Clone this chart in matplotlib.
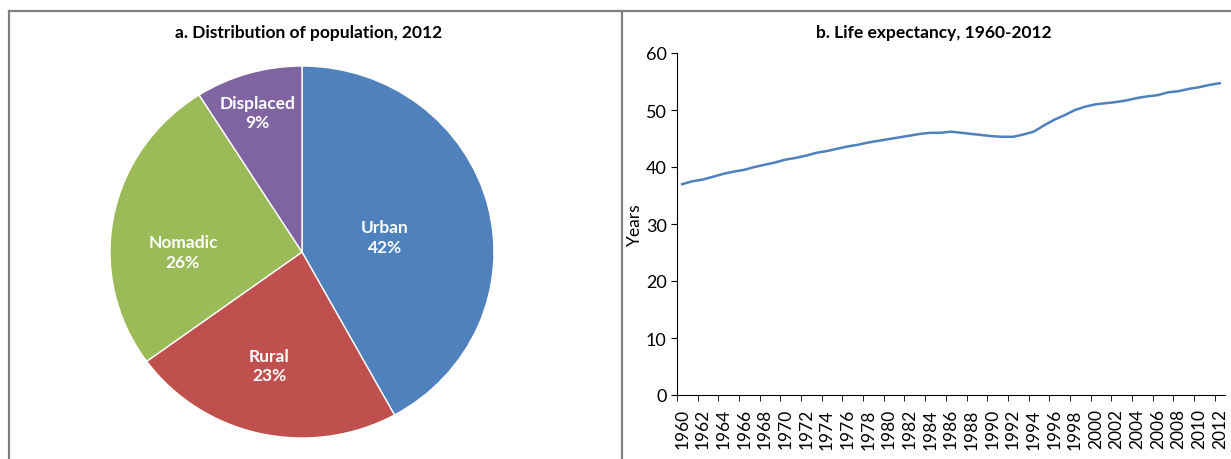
import numpy as np
import matplotlib.pyplot as plt
from matplotlib.lines import Line2D

plt.rcParams['font.family'] = ['Lato', 'DejaVu Sans']

# pie data
groups = ["Urban", "Rural", "Nomadic", "Displaced"]
shares = [42, 23, 26, 9]
pie_colors = ["#4F81BD", "#C0504D", "#9BBB59", "#8064A2"]
# label centres in pie coords (radius 1)
label_pos = [(0.43, 0.08), (-0.17, -0.61), (-0.62, 0.0), (-0.23, 0.75)]

# life expectancy data
years = list(range(1960, 2013))
life_exp = [37.0, 37.5, 37.8, 38.3, 38.8, 39.2, 39.5, 40.0, 40.4, 40.8,
            41.3, 41.6, 42.0, 42.5, 42.8, 43.2, 43.6, 43.9, 44.3, 44.6,
            44.9, 45.2, 45.5, 45.8, 46.0, 46.0, 46.2, 46.0, 45.8, 45.6,
            45.4, 45.3, 45.3, 45.7, 46.2, 47.3, 48.3, 49.1, 50.0, 50.6,
            51.0, 51.2, 51.4, 51.7, 52.1, 52.4, 52.6, 53.1, 53.3, 53.7,
            54.0, 54.4, 54.7]

W, H = 1231, 460
fig = plt.figure(figsize=(W / 100, H / 100), dpi=100)

def box(x0, y0, x1, y1):
    return [x0 / W, 1 - y1 / H, (x1 - x0) / W, (y1 - y0) / H]

# frame lines
grey = "#808080"
fig.add_artist(Line2D([9 / W, 1], [1 - 12 / H, 1 - 12 / H], color=grey, lw=1.6))
fig.add_artist(Line2D([9 / W, 9 / W], [0, 1 - 12 / H], color=grey, lw=1.6))
fig.add_artist(Line2D([622 / W, 622 / W], [0, 1 - 12 / H], color=grey, lw=1.6))

# panel titles
fig.text(309 / W, 1 - 33 / H, "a. Distribution of population, 2012",
         ha="center", va="center", fontsize=12.5, fontweight="bold")
fig.text(934 / W, 1 - 33 / H, "b. Life expectancy, 1960-2012",
         ha="center", va="center", fontsize=12.5, fontweight="bold")

# pie
ax1 = fig.add_axes(box(110, 67, 494, 439))
ax1.pie(shares, colors=pie_colors, startangle=90, counterclock=False,
        radius=1, wedgeprops=dict(edgecolor="white", linewidth=1))
ax1.set_aspect("auto")
ax1.set_xlim(-1, 1)
ax1.set_ylim(-1, 1)
for name, val, (lx, ly) in zip(groups, shares, label_pos):
    ax1.text(lx, ly, f"{name}\n{val}%", ha="center", va="center",
             color="white", fontsize=12.5, fontweight="bold", linespacing=1.25)

# line chart
ax2 = fig.add_axes(box(677, 54, 1225, 396))
ax2.plot(years, life_exp, color="#4F81BD", lw=1.8)
ax2.set_xlim(1959.5, 2012.5)
ax2.set_ylim(0, 60)
ax2.set_yticks(range(0, 61, 10))
ax2.set_xticks(years[::2])
ax2.set_xticklabels([str(y) for y in years[::2]], rotation=90, fontsize=12.5)
ax2.set_xticks(np.arange(1959.5, 2013, 2), minor=True)
ax2.tick_params(axis="x", which="major", length=0, pad=9.5)
ax2.tick_params(axis="x", which="minor", length=4, direction="out")
ax2.tick_params(axis="y", length=4, direction="out", labelsize=13)
ax2.set_ylabel("Years", fontsize=12.5)
ax2.yaxis.set_label_coords(-0.062, 0.5)
for s in ["top", "right"]:
    ax2.spines[s].set_visible(False)

fig.savefig("out.png", dpi=100)
